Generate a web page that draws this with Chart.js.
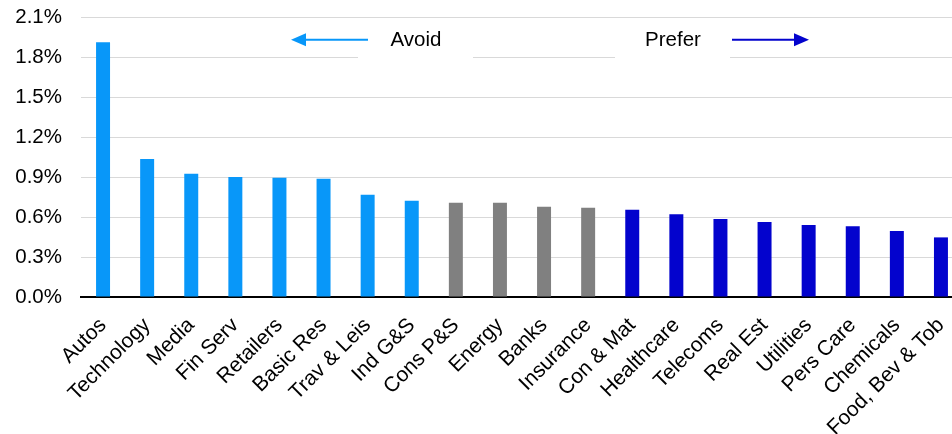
<!DOCTYPE html>
<html>
<head>
<meta charset="utf-8">
<title>Sector ranking</title>
<script src="https://cdn.jsdelivr.net/npm/chart.js@4/dist/chart.umd.min.js"></script>
<style>
  html, body { margin: 0; padding: 0; background: #fff; overflow: hidden; }
  #wrap { width: 952px; height: 434px; overflow: hidden; }
  canvas { display: block; }
</style>
</head>
<body>
<div id="wrap"><canvas id="chart" width="963" height="434"></canvas></div>
<script>
// Sectors, ordered from least to most preferred
const sectors = [
  'Autos', 'Technology', 'Media', 'Fin Serv', 'Retailers', 'Basic Res',
  'Trav & Leis', 'Ind G&S', 'Cons P&S', 'Energy', 'Banks', 'Insurance',
  'Con & Mat', 'Healthcare', 'Telecoms', 'Real Est', 'Utilities',
  'Pers Care', 'Chemicals', 'Food, Bev & Tob'
];

// Value per sector, in percent
const values = [
  1.91, 1.035, 0.925, 0.90, 0.895, 0.887,
  0.767, 0.722, 0.707, 0.707, 0.677, 0.67,
  0.655, 0.62, 0.585, 0.563, 0.54,
  0.53, 0.495, 0.447
];

// Stance per sector
const stance = [
  'avoid', 'avoid', 'avoid', 'avoid', 'avoid', 'avoid',
  'avoid', 'avoid', 'neutral', 'neutral', 'neutral', 'neutral',
  'prefer', 'prefer', 'prefer', 'prefer', 'prefer',
  'prefer', 'prefer', 'prefer'
];

// Y axis ticks
const yTicks = [0, 0.3, 0.6, 0.9, 1.2, 1.5, 1.8, 2.1];

const stanceColors = { avoid: '#0897F9', neutral: '#808080', prefer: '#0303CD' };
const FONT = '"Liberation Sans", Arial, Helvetica, sans-serif';

// Draws the "Avoid" / "Prefer" call-outs with their arrows
const calloutPlugin = {
  id: 'callouts',
  afterDraw(chart) {
    const ctx = chart.ctx;
    const yMid = chart.scales.y.getPixelForValue(1.93);

    ctx.save();
    // white text boxes
    ctx.fillStyle = '#ffffff';
    ctx.fillRect(358, yMid - 16, 115, 36);
    ctx.fillRect(615, yMid - 16, 115, 36);

    ctx.fillStyle = '#000000';
    ctx.font = '20.5px ' + FONT;
    ctx.textAlign = 'center';
    ctx.textBaseline = 'middle';
    ctx.fillText('Avoid', 416, yMid + 1);
    ctx.fillText('Prefer', 673, yMid + 1);

    function arrow(x0, x1, color) {
      const dir = Math.sign(x1 - x0);
      const headLen = 15, headHalf = 6.5;
      ctx.strokeStyle = color;
      ctx.fillStyle = color;
      ctx.lineWidth = 2;
      ctx.beginPath();
      ctx.moveTo(x0, yMid);
      ctx.lineTo(x1 - dir * headLen + dir, yMid);
      ctx.stroke();
      ctx.beginPath();
      ctx.moveTo(x1, yMid);
      ctx.lineTo(x1 - dir * headLen, yMid - headHalf);
      ctx.lineTo(x1 - dir * headLen, yMid + headHalf);
      ctx.closePath();
      ctx.fill();
    }
    arrow(368, 291, stanceColors.avoid);
    arrow(732, 809, stanceColors.prefer);
    ctx.restore();
  }
};

new Chart(document.getElementById('chart'), {
  type: 'bar',
  data: {
    labels: sectors,
    datasets: [{
      data: values,
      backgroundColor: stance.map(s => stanceColors[s]),
      borderWidth: 0,
      barPercentage: 0.317,
      categoryPercentage: 1.0
    }]
  },
  options: {
    responsive: false,
    animation: false,
    devicePixelRatio: 1,
    layout: { padding: { top: 17, right: 0, bottom: 0, left: 0 } },
    plugins: {
      legend: { display: false },
      tooltip: { enabled: false }
    },
    scales: {
      x: {
        offset: true,
        grid: { display: false, drawTicks: false },
        border: { display: true, color: '#000000', width: 2 },
        ticks: {
          autoSkip: false,
          minRotation: 45,
          maxRotation: 45,
          padding: 16,
          color: '#000000',
          font: { family: FONT, size: 21 }
        },
        afterFit(scale) {
          scale.height = 137;
          scale.paddingLeft = 0;
          scale.paddingRight = 0;
        }
      },
      y: {
        min: yTicks[0],
        max: yTicks[yTicks.length - 1],
        afterBuildTicks(scale) { scale.ticks = yTicks.map(v => ({ value: v })); },
        grid: {
          drawTicks: false,
          color: ctx => ctx.tick && ctx.tick.value === 0 ? 'rgba(0,0,0,0)' : '#d9d9d9',
          lineWidth: 1
        },
        border: { display: false },
        ticks: {
          padding: 19,
          color: '#000000',
          font: { family: FONT, size: 20.5 },
          callback: v => Number(v).toFixed(1) + '%'
        },
        afterFit(scale) {
          scale.width = 81;
          scale.paddingTop = 0;
          scale.paddingBottom = 0;
        }
      }
    }
  },
  plugins: [calloutPlugin]
});
</script>
</body>
</html>
